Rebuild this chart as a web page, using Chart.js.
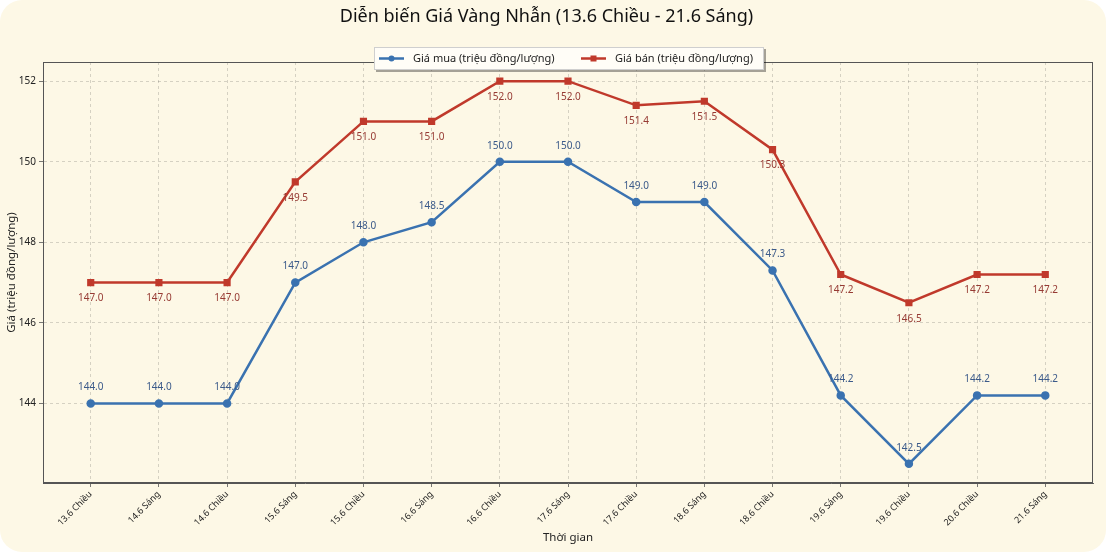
<!DOCTYPE html>
<html>
<head>
<meta charset="utf-8">
<script src="https://cdn.jsdelivr.net/npm/chart.js@4.4.1/dist/chart.umd.min.js"></script>
<style>
  html, body { margin: 0; padding: 0; background: #ffffff; }
  #card { width: 1106px; height: 552px; background: #fdf8e6; border-radius: 22px; overflow: hidden; }
  canvas { display: block; }
</style>
</head>
<body>
<div id="card"><canvas id="chart" width="1106" height="552"></canvas></div>
<script>
// Time labels
const labels = ["13.6 Chiều", "14.6 Sáng", "14.6 Chiều", "15.6 Sáng", "15.6 Chiều", "16.6 Sáng", "16.6 Chiều",
    "17.6 Sáng", "17.6 Chiều", "18.6 Sáng", "18.6 Chiều", "19.6 Sáng", "19.6 Chiều", "20.6 Chiều", "21.6 Sáng"];
// Prices (million VND / tael)
const buyPrices = [144.0, 144.0, 144.0, 147.0, 148.0, 148.5, 150.0, 150.0, 149.0, 149.0, 147.3, 144.2, 142.5, 144.2, 144.2];
const sellPrices = [147.0, 147.0, 147.0, 149.5, 151.0, 151.0, 152.0, 152.0, 151.4, 151.5, 150.3, 147.2, 146.5, 147.2, 147.2];
const yTicks = [144, 146, 148, 150, 152];

const FONT = "'Noto Sans', sans-serif";
const BLUE = "#3a72b0";
const RED = "#c0392b";

const toPoints = arr => arr.map((v, i) => ({ x: i, y: v }));

// Value labels above (buy) and below (sell) each point
const valueLabels = {
    id: "valueLabels",
    afterDatasetsDraw(chart) {
        const ctx = chart.ctx;
        ctx.save();
        ctx.font = "10px " + FONT;
        ctx.textAlign = "center";
        ctx.textBaseline = "middle";
        chart.data.datasets.forEach((ds, di) => {
            const meta = chart.getDatasetMeta(di);
            ctx.fillStyle = di === 0 ? "#3b5a8a" : "#963a33";
            meta.data.forEach((pt, i) => {
                const dy = di === 0 ? -16 : 16;
                ctx.fillText(ds.data[i].y.toFixed(1), pt.x, pt.y + dy);
            });
        });
        ctx.restore();
    }
};

// Frame around the plot (all four spines) and the boxed legend
const frameAndLegend = {
    id: "frameAndLegend",
    afterDraw(chart) {
        const ctx = chart.ctx;
        const a = chart.chartArea;
        ctx.save();
        ctx.strokeStyle = "#555";
        ctx.lineWidth = 1;
        ctx.strokeRect(a.left + 0.5, a.top + 0.5, a.right - a.left - 1, a.bottom - a.top - 1);

        // legend box
        const bx = 374, by = 47, bw = 390, bh = 23;
        ctx.fillStyle = "rgba(0,0,0,0.35)";
        ctx.fillRect(bx + 2, by + 2, bw, bh);
        ctx.fillStyle = "#fffdf7";
        ctx.fillRect(bx, by, bw, bh);
        ctx.strokeStyle = "#cfcfcf";
        ctx.strokeRect(bx + 0.5, by + 0.5, bw - 1, bh - 1);

        const cy = by + bh / 2;
        const items = [{ x: 379 }, { x: 581 }];
        ctx.font = "11px " + FONT;
        ctx.textBaseline = "middle";
        ctx.textAlign = "left";
        chart.data.datasets.forEach((ds, i) => {
            const x0 = items[i].x;
            ctx.strokeStyle = ds.borderColor;
            ctx.lineWidth = 2.5;
            ctx.beginPath();
            ctx.moveTo(x0, cy);
            ctx.lineTo(x0 + 25, cy);
            ctx.stroke();
            ctx.fillStyle = ds.borderColor;
            if (i === 0) {
                ctx.beginPath();
                ctx.arc(x0 + 12.5, cy, 3, 0, Math.PI * 2);
                ctx.fill();
            } else {
                ctx.fillRect(x0 + 9.5, cy - 3, 6, 6);
            }
            ctx.fillStyle = "#222";
            ctx.fillText(ds.label, x0 + 34, cy);
        });
        ctx.restore();
    }
};

const grid = {
    color: "rgba(0,0,0,0.2)",
    lineWidth: 0.8,
    tickLength: 4,
    tickColor: "#555"
};

new Chart(document.getElementById("chart").getContext("2d"), {
    type: "line",
    data: {
        datasets: [{
            label: "Giá mua (triệu đồng/lượng)",
            data: toPoints(buyPrices),
            borderColor: BLUE,
            backgroundColor: BLUE,
            borderWidth: 2.5,
            pointStyle: "circle",
            pointRadius: 3,
            tension: 0
        }, {
            label: "Giá bán (triệu đồng/lượng)",
            data: toPoints(sellPrices),
            borderColor: RED,
            backgroundColor: RED,
            borderWidth: 2.5,
            pointStyle: "rect",
            pointRadius: 3.3,
            tension: 0
        }]
    },
    options: {
        responsive: false,
        animation: false,
        layout: { padding: { left: 0, right: 13, top: 0, bottom: 0 } },
        plugins: {
            legend: { display: false },
            tooltip: { enabled: false },
            title: {
                display: true,
                text: "Diễn biến Giá Vàng Nhẫn (13.6 Chiều - 21.6 Sáng)",
                color: "#111",
                font: { family: FONT, size: 18, weight: "normal" },
                padding: { top: 6, bottom: 34.4 }
            }
        },
        scales: {
            x: {
                type: "linear",
                min: -0.7,
                max: 14.7,
                afterBuildTicks: s => { s.ticks = labels.map((_, i) => ({ value: i })); },
                afterFit: s => { s.height = 69; },
                grid: grid,
                border: { display: true, color: "#555", dash: [3, 3] },
                ticks: {
                    callback: v => labels[v],
                    autoSkip: false,
                    maxRotation: 45,
                    minRotation: 45,
                    padding: 2,
                    color: "#222",
                    font: { family: FONT, size: 9 }
                },
                title: {
                    display: true,
                    text: "Thời gian",
                    color: "#222",
                    font: { family: FONT, size: 11.5 },
                    padding: { top: 0, bottom: 7 }
                }
            },
            y: {
                min: 142.025,
                max: 152.475,
                afterBuildTicks: s => { s.ticks = yTicks.map(v => ({ value: v })); },
                afterFit: s => { s.width = 43; },
                grid: grid,
                border: { display: true, color: "#555", dash: [3, 3] },
                ticks: {
                    padding: 3,
                    color: "#222",
                    font: { family: FONT, size: 10 }
                },
                title: {
                    display: true,
                    text: "Giá (triệu đồng/lượng)",
                    color: "#222",
                    font: { family: FONT, size: 11.5 },
                    padding: { top: 5, bottom: 0 }
                }
            }
        }
    },
    plugins: [valueLabels, frameAndLegend]
});
</script>
</body>
</html>
